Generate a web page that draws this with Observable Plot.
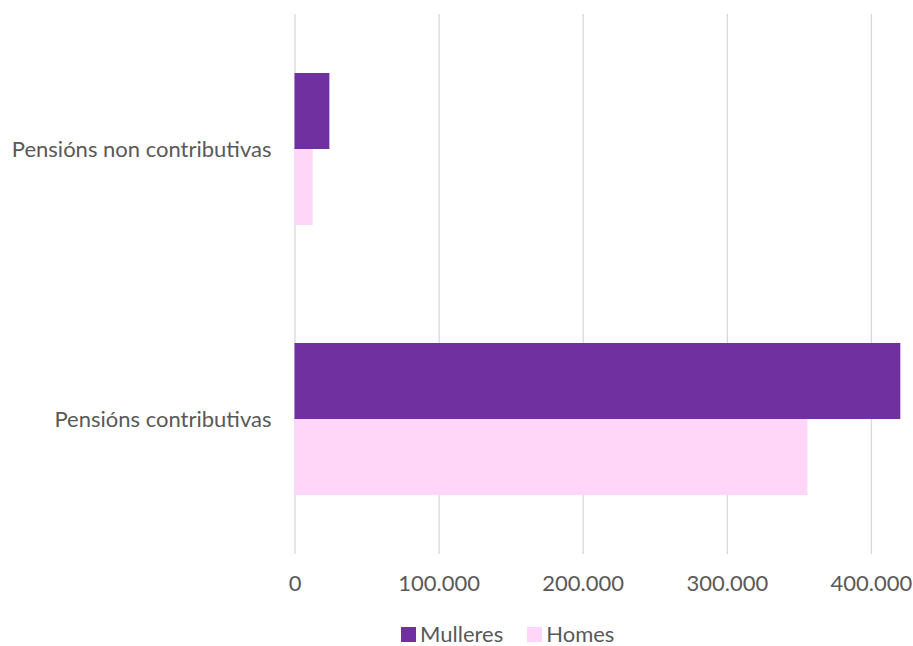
<!DOCTYPE html>
<html><head><meta charset="utf-8">
<script src="https://cdn.jsdelivr.net/npm/d3@7"></script>
<script src="https://cdn.jsdelivr.net/npm/@observablehq/plot@0.6"></script>
<style>
body{margin:0;background:#fff;font-family:Lato,sans-serif;width:913px;height:646px;position:relative;overflow:hidden}
#legend{position:absolute;left:401px;top:623px;display:flex;align-items:center;font-size:22px;color:#595959;line-height:22px;height:22px}
#legend .sw{width:15px;height:15px;display:inline-block;margin-right:4px}
#legend .item{display:flex;align-items:center;margin-right:24px}
</style></head><body><div id="chart"></div><div id="legend"></div>
<script>
const categories = ["Pensións non contributivas", "Pensións contributivas"];
const series = ["Mulleres", "Homes"];
const mulleres = [24200, 420400];
const homes = [12600, 355900];
const xTicks = [0, 100000, 200000, 300000, 400000];
const colors = ["#7030A0", "#FFD5F8"];

const data = [];
categories.forEach((c, i) => {
  data.push({category: c, series: series[0], value: mulleres[i]});
  data.push({category: c, series: series[1], value: homes[i]});
});
const fmt = d => d3.format(",")(d).replace(/,/g, ".");

const chart = Plot.plot({
  width: 913,
  height: 606,
  marginLeft: 294.5,
  marginRight: 0,
  marginTop: 13,
  marginBottom: 52,
  style: {fontSize: "22px", fontFamily: "Lato, sans-serif", color: "#595959", background: "#fff"},
  x: {domain: [0, 429200], ticks: xTicks, tickFormat: fmt, tickSize: 0, tickPadding: 21, label: null},
  y: {domain: series, paddingInner: 0, paddingOuter: 0.756, axis: null},
  fy: {domain: categories, padding: 0, axis: "left", label: null, tickSize: 0, tickPadding: 23.5},
  color: {domain: series, range: colors},
  marks: [
    Plot.gridX(xTicks, {stroke: "#d9d9d9", strokeOpacity: 1, strokeWidth: 1.3}),
    Plot.barX(data, {x: "value", y: "series", fy: "category", fill: "series"})
  ]
});
document.getElementById("chart").appendChild(chart);

const legend = document.getElementById("legend");
series.forEach((s, i) => {
  const item = document.createElement("div");
  item.className = "item";
  const sw = document.createElement("span");
  sw.className = "sw";
  sw.style.background = colors[i];
  item.appendChild(sw);
  item.appendChild(document.createTextNode(s));
  legend.appendChild(item);
});
</script>
</body></html>
